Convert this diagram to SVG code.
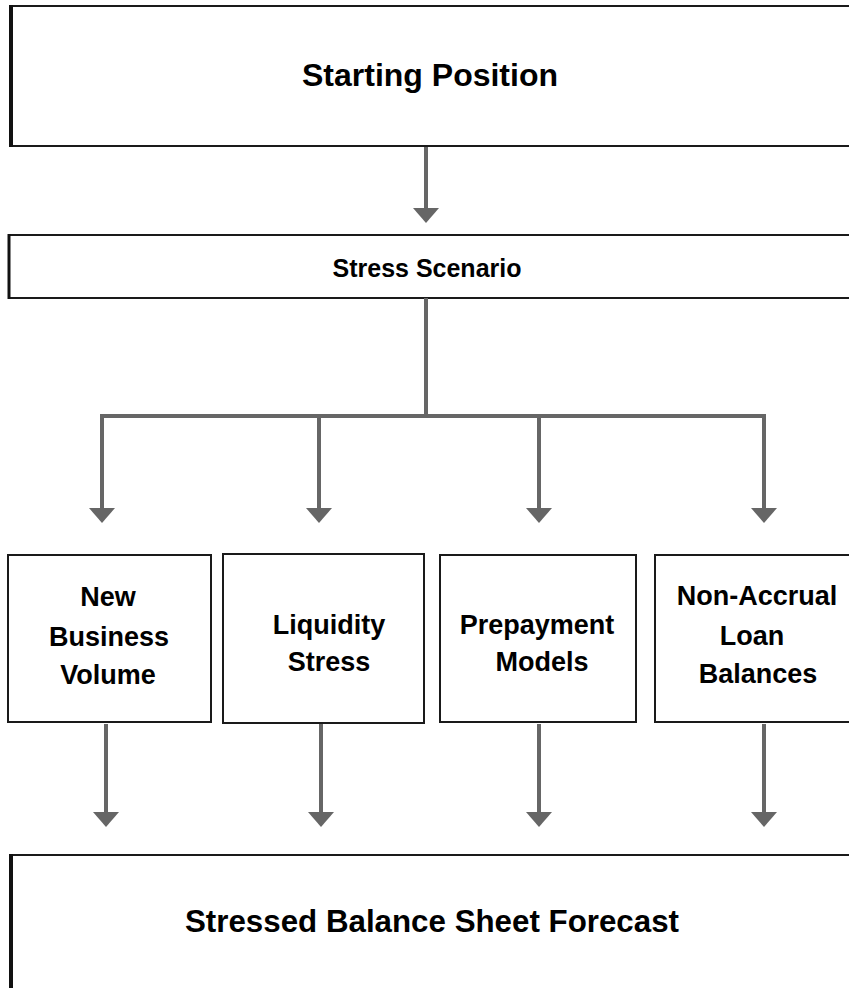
<svg xmlns="http://www.w3.org/2000/svg" width="849" height="988" viewBox="0 0 849 988">
  <style>
    .box { fill: #ffffff; stroke: #1a1a1a; stroke-width: 2; }
    .edge { stroke: #111111; stroke-width: 4; }
    .wire { fill: none; stroke: #666666; stroke-width: 4; }
    .head { fill: #666666; }
    text { font-family: "Liberation Sans", Arial, sans-serif; font-weight: bold; fill: #000000; text-anchor: middle; }
    .big { font-size: 32px; }
    .mid { font-size: 25px; }
    .lbl { font-size: 27px; }
  </style>
  <defs>
    <polygon id="arrowhead" class="head" points="-13,0 13,0 0,15"/>
  </defs>

  <rect width="849" height="988" fill="#ffffff"/>

  <g id="starting-position">
    <rect class="box" x="11" y="6" width="850" height="140"/>
    <line class="edge" x1="11" y1="5" x2="11" y2="147"/>
    <text class="big" x="430" y="86">Starting Position</text>
  </g>

  <g id="stress-scenario">
    <rect class="box" x="9" y="235" width="850" height="63"/>
    <line class="edge" x1="9" y1="234" x2="9" y2="299" style="stroke-width:3"/>
    <text class="mid" x="427" y="277">Stress Scenario</text>
  </g>

  <g id="new-business-volume">
    <rect class="box" x="8" y="555" width="203" height="167"/>
    <text class="lbl" x="108" y="606">New</text>
    <text class="lbl" x="109" y="646">Business</text>
    <text class="lbl" x="108" y="684">Volume</text>
  </g>

  <g id="liquidity-stress">
    <rect class="box" x="223" y="554" width="201" height="169"/>
    <text class="lbl" x="329" y="634">Liquidity</text>
    <text class="lbl" x="329" y="671">Stress</text>
  </g>

  <g id="prepayment-models">
    <rect class="box" x="440" y="555" width="196" height="167"/>
    <text class="lbl" x="537" y="634">Prepayment</text>
    <text class="lbl" x="542" y="671">Models</text>
  </g>

  <g id="non-accrual-loan-balances">
    <rect class="box" x="655" y="555" width="210" height="167"/>
    <text class="lbl" x="757" y="605">Non-Accrual</text>
    <text class="lbl" x="752" y="645">Loan</text>
    <text class="lbl" x="758" y="683">Balances</text>
  </g>

  <g id="stressed-balance-sheet-forecast">
    <rect class="box" x="11" y="855" width="850" height="150"/>
    <line class="edge" x1="11" y1="854" x2="11" y2="990"/>
    <text class="big" x="432" y="932" style="font-size:31.3px">Stressed Balance Sheet Forecast</text>
  </g>

  <g id="connectors">
    <!-- starting position to scenario -->
    <line class="wire" x1="426" y1="147" x2="426" y2="210"/>
    <use href="#arrowhead" x="426" y="208"/>

    <!-- scenario fan-out -->
    <path class="wire" d="M426,298 V416 M102,510 V416 H764 V510 M319,416 V510 M539,416 V510"/>
    <use href="#arrowhead" x="102" y="508"/>
    <use href="#arrowhead" x="319" y="508"/>
    <use href="#arrowhead" x="539" y="508"/>
    <use href="#arrowhead" x="764" y="508"/>

    <!-- drivers into forecast -->
    <path class="wire" d="M106,724 V814 M321,724 V814 M539,724 V814 M764,724 V814"/>
    <use href="#arrowhead" x="106" y="812"/>
    <use href="#arrowhead" x="321" y="812"/>
    <use href="#arrowhead" x="539" y="812"/>
    <use href="#arrowhead" x="764" y="812"/>
  </g>
</svg>
